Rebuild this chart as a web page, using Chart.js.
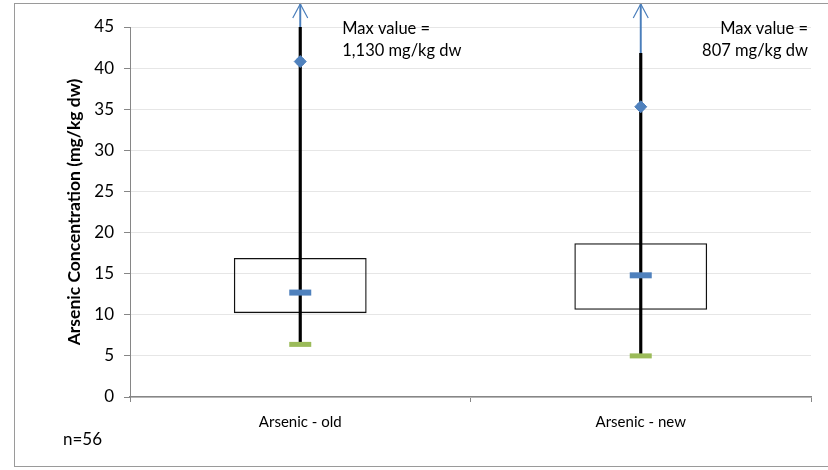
<!DOCTYPE html>
<html>
<head>
<meta charset="utf-8">
<script src="https://cdn.jsdelivr.net/npm/chart.js@4/dist/chart.umd.min.js"></script>
<style>
    html, body { margin: 0; padding: 0; background: #fff; }
    #wrap { position: relative; width: 828px; height: 470px; }
    #frame { position: absolute; left: 14px; top: 3px; width: 830px; height: 464px; border: 1px solid #9a9a9a; box-sizing: border-box; pointer-events: none; }
    canvas { position: absolute; left: 0; top: 0; }
</style>
</head>
<body>
<div id="wrap">
    <canvas id="chart" width="828" height="470"></canvas>
    <div id="frame"></div>
</div>
<script>
// Data
const categories = ['Arsenic - old', 'Arsenic - new'];
const q1 = [10.2, 10.6];
const q3 = [16.9, 18.7];
const medians = [12.7, 14.8];
const minimums = [6.4, 5.0];
const p95 = [40.8, 35.3];       // blue diamond markers
const whiskerTop = [45, 41.8];   // where the black whisker stops
const arrowTip = [47.8, 47.8];   // off-scale arrow (max beyond axis)
const maxLabels = [['Max value =', '1,130 mg/kg dw'], ['Max value =', '807 mg/kg dw']];
const yTicks = [0, 5, 10, 15, 20, 25, 30, 35, 40, 45];
const sampleNote = 'n=56';

const FONT = 'Lato, "Open Sans", sans-serif';
const blue = '#4f81bd';
const green = '#9bbb59';
const arrowBlue = '#4a7ebb';

// annotations, arrow heads and the n= note
const notes = {
    id: 'notes',
    afterDraw(chart) {
        const ctx = chart.ctx;
        const x = chart.scales.x, y = chart.scales.y;
        ctx.save();

        // open chevron heads on the off-scale arrows
        ctx.strokeStyle = arrowBlue;
        ctx.lineWidth = 1.2;
        arrowTip.forEach((v, i) => {
            const px = x.getPixelForValue(i), py = y.getPixelForValue(v);
            ctx.beginPath();
            ctx.moveTo(px - 7.5, py + 14);
            ctx.lineTo(px, py);
            ctx.lineTo(px + 7.5, py + 14);
            ctx.stroke();
        });

        ctx.fillStyle = '#000';
        ctx.font = '16.5px ' + FONT;
        ctx.textBaseline = 'middle';
        const top = y.getPixelForValue(45);
        // left note, left aligned just right of the whisker
        ctx.textAlign = 'left';
        const x0 = x.getPixelForValue(0) + 42;
        ctx.fillText(maxLabels[0][0], x0, top + 2);
        ctx.fillText(maxLabels[0][1], x0, top + 24);
        // right note, right aligned to the plot edge
        ctx.textAlign = 'right';
        const x1 = chart.chartArea.right - 3;
        ctx.fillText(maxLabels[1][0], x1, top + 2);
        ctx.fillText(maxLabels[1][1], x1, top + 24);
        // sample size
        ctx.textAlign = 'left';
        ctx.font = '17px ' + FONT;
        ctx.fillText(sampleNote, 63, 440);
        ctx.restore();
    }
};

new Chart(document.getElementById('chart').getContext('2d'), {
    type: 'bar',
    data: {
        labels: categories,
        datasets: [
            {
                type: 'line', label: 'p95', data: p95, showLine: false,
                pointStyle: 'rectRot', pointRadius: 6, pointBackgroundColor: blue, pointBorderColor: blue, order: 0
            },
            {
                type: 'line', label: 'p95b', data: p95, showLine: false,
                pointStyle: 'rect', pointRadius: 4.3, pointBackgroundColor: blue, pointBorderColor: blue, order: 0
            },
            {
                type: 'line', label: 'median', data: medians, showLine: false,
                pointStyle: 'line', pointRadius: 11, pointBorderWidth: 6, pointBorderColor: blue, order: 0
            },
            {
                type: 'line', label: 'min', data: minimums, showLine: false,
                pointStyle: 'line', pointRadius: 11, pointBorderWidth: 5, pointBorderColor: green, order: 0
            },
            {
                label: 'box', data: q1.map((v, i) => [v, q3[i]]),
                backgroundColor: 'rgba(0,0,0,0)', borderColor: '#111', borderWidth: 1.3,
                borderSkipped: false, barPercentage: 0.39, categoryPercentage: 1, grouped: false, order: 2
            },
            {
                label: 'whisker', data: minimums.map((v, i) => [v, whiskerTop[i]]),
                backgroundColor: '#000', barThickness: 2.5, grouped: false, order: 1
            },
            {
                label: 'arrow', data: whiskerTop.map((v, i) => [v, arrowTip[i]]), clip: false,
                backgroundColor: arrowBlue, barThickness: 1.3, grouped: false, order: 1
            }
        ]
    },
    options: {
        responsive: false,
        animation: false,
        layout: { padding: { left: 14, top: 27, right: 17, bottom: 0 } },
        plugins: {
            legend: { display: false },
            tooltip: { enabled: false }
        },
        scales: {
            x: {
                grid: { offset: true, drawOnChartArea: false, tickLength: 5, color: '#868686', tickColor: '#868686' },
                border: { color: '#868686', width: 1.5 },
                ticks: { color: '#000', font: { family: FONT, size: 15 }, padding: 11 },
                afterFit: s => { s.height = 73; }
            },
            y: {
                min: 0, max: 45,
                afterBuildTicks: s => { s.ticks = yTicks.map(v => ({ value: v })); },
                grid: { color: '#e6e6e6', tickLength: 6, tickColor: '#868686' },
                border: { color: '#868686', width: 1 },
                ticks: { color: '#000', font: { family: FONT, size: 17 }, padding: 10 },
                title: {
                    display: true, text: 'Arsenic Concentration (mg/kg dw)', color: '#000',
                    font: { family: FONT, size: 17.5, weight: 'bold' }, padding: { top: 50, bottom: 0 }
                },
                afterFit: s => { s.width = 116; }
            }
        }
    },
    plugins: [notes]
});
</script>
</body>
</html>
